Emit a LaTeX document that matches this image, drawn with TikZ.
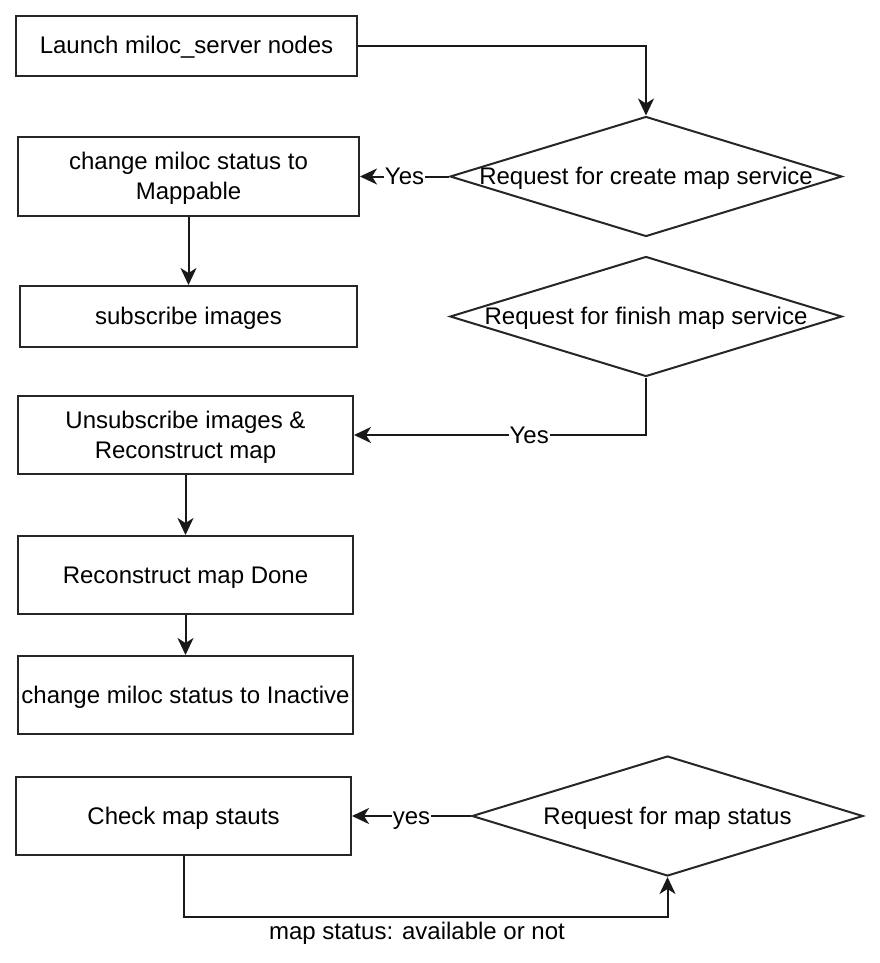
\documentclass[tikz,border=0pt]{standalone}
\usepackage{fontspec}
\setmainfont{Liberation Sans}
\usetikzlibrary{shapes.geometric, arrows.meta}

\newcommand{\dtext}[1]{\makebox[0pt]{#1}}

\begin{document}
\begin{tikzpicture}[x=1pt, y=-1pt, line width=2pt,
    every node/.style={font=\fontsize{24}{30}\selectfont, align=center, inner sep=0pt,
      text height=20pt, text depth=4pt},
    box/.style={rectangle, draw=black!85},
    twolines/.style={text height=50pt, text depth=4pt},
    decision/.style={diamond, draw=black!85, minimum width=392pt, minimum height=120pt},
    arr/.style={draw=black!90, -{Stealth[length=17pt, width=16pt, inset=5pt]}},
    lbl/.style={fill=white, inner sep=1pt}]
      \useasboundingbox (0,0) rectangle (880,963);
      % left column
      \node[box, minimum width=341pt, minimum height=60pt] (launch) at (186.5, 46) {Launch miloc\_server nodes};
      \node[box, twolines, minimum width=341pt, minimum height=79pt] (mappable) at (188.5, 176.5) {change miloc status to\\Mappable};
      \node[box, minimum width=337pt, minimum height=61pt] (subscribe) at (188.5, 316.5) {subscribe images};
      \node[box, twolines, minimum width=335pt, minimum height=78pt] (unsub) at (185.5, 435) {Unsubscribe images \&\\Reconstruct map};
      \node[box, minimum width=335pt, minimum height=78pt] (done) at (185.5, 575) {Reconstruct map Done};
      \node[box, minimum width=335pt, minimum height=78pt] (inactive) at (185.5, 695) {change miloc status to Inactive};
      \node[box, minimum width=335pt, minimum height=78pt] (check) at (183.5, 816) {Check map stauts};
      % decisions
      \node[decision] (create) at (646, 176.5) {\dtext{Request for create map service}};
      \node[decision] (finish) at (646, 316.5) {\dtext{Request for finish map service}};
      \node[decision, minimum width=391pt] (status) at (667.5, 816) {\dtext{Request for map status}};
      \coordinate (loop) at (417, 917);
      % connectors
      \draw[arr] (launch) -| (create);
      \draw[arr] (create) -- node[lbl] {Yes} (mappable);
      \draw[arr] (mappable) -- (subscribe);
      \draw[arr] (finish.south) |- node[lbl, pos=0.7] {Yes} (unsub.east);
      \draw[arr] (unsub) -- (done);
      \draw[arr] (done) -- (inactive);
      \draw[arr] (status) -- node[lbl] {yes} (check);
      \draw[arr] (check.south) |- (loop) node[below=1pt] {map status: available or not} -| (status.south);
    \end{tikzpicture}
\end{document}
